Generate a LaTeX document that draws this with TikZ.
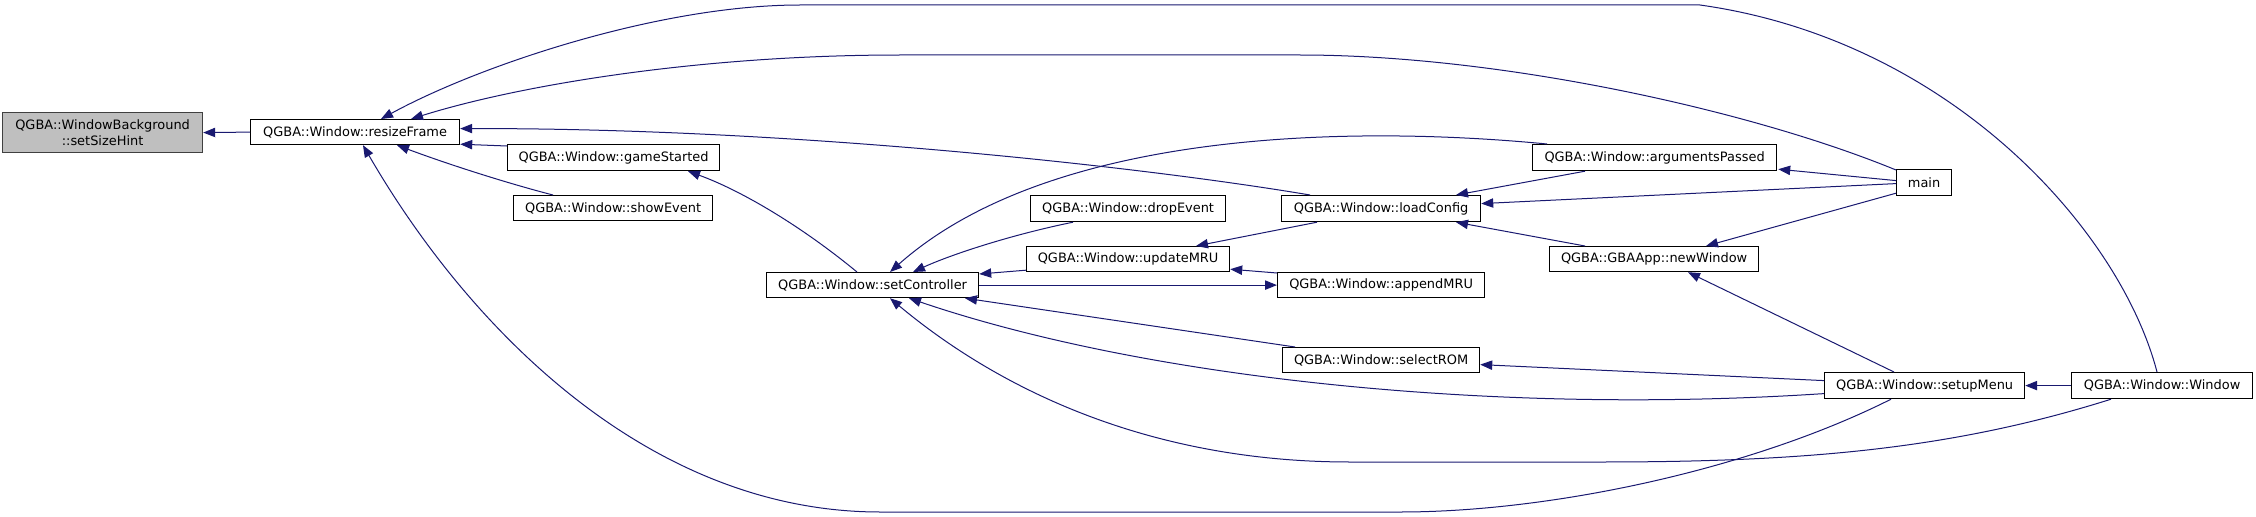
\documentclass[tikz,border=0pt]{standalone}
\usepackage{fontspec}
\setmainfont{DejaVu Sans}
\usetikzlibrary{arrows.meta,calc}
\definecolor{edgeblue}{HTML}{191970}
\definecolor{hintfill}{HTML}{BFBFBF}
\definecolor{hintdraw}{HTML}{404040}
\begin{document}
\begin{tikzpicture}[x=0.75pt,y=-0.75pt,
  fn/.style={draw=black,line width=0.9pt,fill=white,anchor=north west,inner sep=0pt,
    font=\fontsize{9.7}{11.5}\selectfont,minimum height=#1*0.75pt},
  fn/.default=25,
  bw/.style={minimum width=#1*0.75pt},
  hint/.style={draw=hintdraw,fill=hintfill,line width=0.9pt,anchor=north west,inner sep=0pt,
    font=\fontsize{9.7}{11.5}\selectfont,align=center,minimum height=40*0.75pt},
  edge/.style={draw=edgeblue,line width=0.75pt,-{Triangle[length=9pt,width=7pt]}}]
\useasboundingbox (0,0) rectangle (2256,517);
% nodes
\node[hint,bw=200] (setSizeHint) at (2,112) {QGBA::WindowBackground\\::setSizeHint};
\node[fn,bw=209] (resizeFrame) at (250,119) {QGBA::Window::resizeFrame};
\node[fn=26,bw=212] (gameStarted) at (507,144) {QGBA::Window::gameStarted};
\node[fn,bw=199] (showEvent) at (513,195) {QGBA::Window::showEvent};
\node[fn,bw=212] (setController) at (766,272) {QGBA::Window::setController};
\node[fn=26,bw=195] (dropEvent) at (1030,195) {QGBA::Window::dropEvent};
\node[fn,bw=203] (updateMRU) at (1026,246) {QGBA::Window::updateMRU};
\node[fn,bw=207] (appendMRU) at (1277,272) {QGBA::Window::appendMRU};
\node[fn,bw=197] (selectROM) at (1282,347) {QGBA::Window::selectROM};
\node[fn=26,bw=199] (loadConfig) at (1281,195) {QGBA::Window::loadConfig};
\node[fn=26,bw=244] (argumentsPassed) at (1532,144) {QGBA::Window::argumentsPassed};
\node[fn,bw=209] (newWindow) at (1549,246) {QGBA::GBAApp::newWindow};
\node[fn=26,bw=55] (main) at (1896,169) {main};
\node[fn=26,bw=200] (setupMenu) at (1824,372) {QGBA::Window::setupMenu};
\node[fn=26,bw=181] (Window) at (2071,372) {QGBA::Window::Window};
% edges
\draw[edge] (resizeFrame.west) -- (setSizeHint.east);
\draw[edge] ($(gameStarted.north west)+(0,2)$) -- ($(resizeFrame.south east)+(0,-1)$);
\draw[edge] ($(showEvent.north west)+(40,0)$) .. controls (510,184) and (450,165) .. ($(resizeFrame.south west)+(147,0)$);
\draw[edge] ($(loadConfig.north west)+(29,0)$) .. controls (1150,168) and (800,128) .. ($(resizeFrame.east)+(0,-3.5)$);
\draw[edge] ($(main.north west)+(0,1)$) .. controls (1750,110) and (1500,55) .. (1300,55) -- (900,55) .. controls (700,55) and (520,85) .. ($(resizeFrame.north west)+(161,0)$);
\draw[edge] ($(Window.north west)+(86,0)$) .. controls (2120,230) and (1950,40) .. (1700,5) -- (800,5) .. controls (660,5) and (480,65) .. ($(resizeFrame.north west)+(131,0)$);
\draw[edge] ($(setupMenu.south west)+(67,0)$) .. controls (1750,470) and (1550,512) .. (1400,512) -- (880,512) .. controls (650,512) and (470,330) .. ($(resizeFrame.south west)+(113,0)$);
\draw[edge] ($(setController.north west)+(91,0)$) .. controls (800,225) and (740,190) .. ($(gameStarted.south west)+(181,0)$);
\draw[edge] ($(dropEvent.south west)+(43,0)$) .. controls (1010,235) and (950,255) .. ($(setController.north west)+(147,0)$);
\draw[edge] ($(updateMRU.south west)+(0,-2)$) -- ($(setController.north east)+(0,2)$);
\draw[edge] ($(argumentsPassed.north west)+(15,0)$) .. controls (1350,125) and (1050,130) .. ($(setController.north west)+(124,0)$);
\draw[edge] ($(selectROM.north west)+(13,0)$) -- ($(setController.south west)+(199,0)$);
\draw[edge] ($(setupMenu.west)+(0,8)$) .. controls (1500,415) and (1150,380) .. ($(setController.south west)+(143,0)$);
\draw[edge] ($(Window.south west)+(40,0)$) .. controls (1950,450) and (1800,462) .. (1600,462) -- (1350,462) .. controls (1150,462) and (1000,390) .. ($(setController.south west)+(124,0)$);
\draw[edge] (setController.east) -- (appendMRU.west);
\draw[edge] ($(appendMRU.north west)+(0,1)$) -- ($(updateMRU.south east)+(0,-3)$);
\draw[edge] ($(loadConfig.south west)+(36,0)$) -- ($(updateMRU.north west)+(170,0)$);
\draw[edge] ($(argumentsPassed.south west)+(53,0)$) -- ($(loadConfig.north west)+(175,0)$);
\draw[edge] ($(main.west)+(0,1)$) -- ($(loadConfig.east)+(0,-5)$);
\draw[edge] ($(newWindow.north west)+(36,0)$) -- ($(loadConfig.south west)+(175,0)$);
\draw[edge] ($(main.west)+(0,-2)$) -- ($(argumentsPassed.south east)+(1,-2)$);
\draw[edge] ($(main.south west)+(0,-3)$) -- ($(newWindow.north west)+(157,0)$);
\draw[edge] ($(setupMenu.north west)+(70,0)$) -- ($(newWindow.south west)+(139,0)$);
\draw[edge] ($(setupMenu.west)+(0,-5)$) -- ($(selectROM.east)+(0,4.5)$);
\draw[edge] (Window.west) -- (setupMenu.east);
\end{tikzpicture}
\end{document}
